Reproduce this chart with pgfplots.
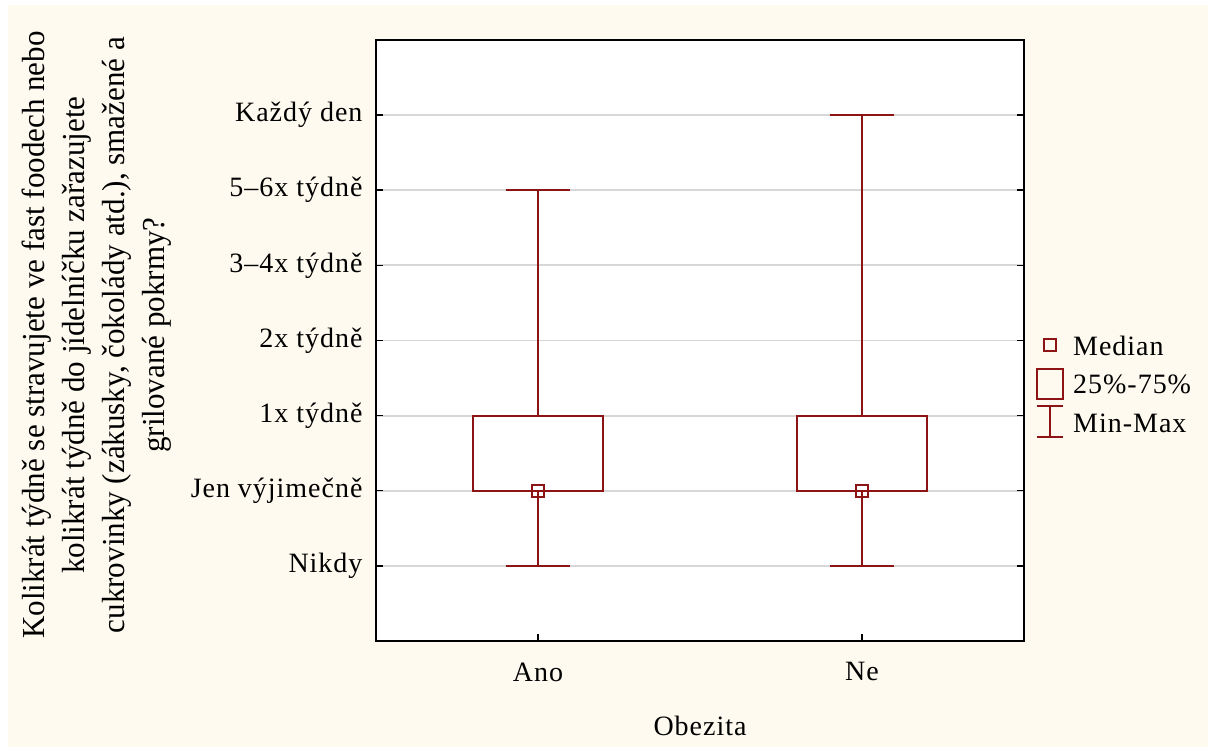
\documentclass[border=0pt]{standalone}
\usepackage{fontspec}
\setmainfont{Liberation Serif}
\newfontfamily\condfont[FakeStretch=0.97]{Liberation Serif}
\newfontfamily\spfont[LetterSpace=3.5]{Liberation Serif}
\usepackage{pgfplots}
\usepgfplotslibrary{statistics}
\pgfplotsset{compat=1.18}
\definecolor{cream}{RGB}{254,250,239}
\definecolor{dred}{RGB}{140,20,20}
\definecolor{gridg}{RGB}{215,215,215}
\begin{document}
\begin{tikzpicture}[x=1bp,y=1bp]
\useasboundingbox (0,0) rectangle (1208,747);
\fill[white] (0,0) rectangle (1208,747);
\fill[cream] (8,0) rectangle (1208,742);
\begin{axis}[
  at={(376bp,106bp)}, anchor=south west,
  scale only axis, width=648bp, height=601bp,
  xmin=-0.5, xmax=1.5, ymin=-1, ymax=7,
  boxplot/draw direction=y,
  axis background/.style={fill=white},
  axis line style={black, line width=2.4bp},
  xtick={0,1}, xticklabels={Ano,Ne},
  ytick={0,1,2,3,4,5,6},
  yticklabels={Nikdy,Jen výjimečně,1x týdně,2x týdně,3–4x týdně,5–6x týdně,Každý den},
  tick align=inside, major tick length=7bp,
  xtick pos=bottom, ytick pos=both,
  tick style={black, line width=1.5bp},
  ymajorgrids, grid style={gridg, line width=1.8bp},
  ticklabel style={font=\spfont\fontsize{28bp}{32bp}\selectfont},
  yticklabel style={xshift=-10bp},
  xticklabel style={yshift=-18bp},
  xlabel={Obezita},
  xlabel style={at={(axis description cs:0.5,-0.141)}, anchor=center, font=\spfont\fontsize{28bp}{32bp}\selectfont},
  ylabel={Kolikrát týdně se stravujete ve fast foodech nebo\\kolikrát týdně do jídelníčku zařazujete\\cukrovinky (zákusky, čokolády atd.), smažené a\\grilované pokrmy?},
  ylabel style={at={(axis description cs:-0.4306,0.509)}, anchor=center, align=center, font=\condfont\fontsize{32bp}{40bp}\selectfont},
  clip=false,
]
\addplot[draw=dred, line width=2bp, solid, boxplot prepared={draw position=0, median=1, lower quartile=1, upper quartile=2, lower whisker=0, upper whisker=5, box extend=0.4, whisker extend=0.2}] coordinates {};
\addplot[draw=dred, line width=2bp, solid, boxplot prepared={draw position=1, median=1, lower quartile=1, upper quartile=2, lower whisker=0, upper whisker=6, box extend=0.4, whisker extend=0.2}] coordinates {};
\addplot[only marks, mark=square, mark size=6.2bp, mark options={draw=dred, line width=2bp, fill=none}] coordinates {(0,1) (1,1)};
\end{axis}
% legend
\draw[dred, line width=2bp] (1044,396) rectangle (1056,408);
\draw[dred, line width=2bp] (1037,348) rectangle (1063,378);
\draw[dred, line width=2bp] (1037,341) -- (1063,341) (1050,341) -- (1050,310) (1037,310) -- (1063,310);
\node[anchor=west, font=\spfont\fontsize{28bp}{32bp}\selectfont, inner sep=0pt] at (1073,401) {Median};
\node[anchor=west, font=\spfont\fontsize{28bp}{32bp}\selectfont, inner sep=0pt] at (1073,363) {25\%-75\%};
\node[anchor=west, font=\spfont\fontsize{28bp}{32bp}\selectfont, inner sep=0pt] at (1073,324) {Min-Max};
\end{tikzpicture}
\end{document}
